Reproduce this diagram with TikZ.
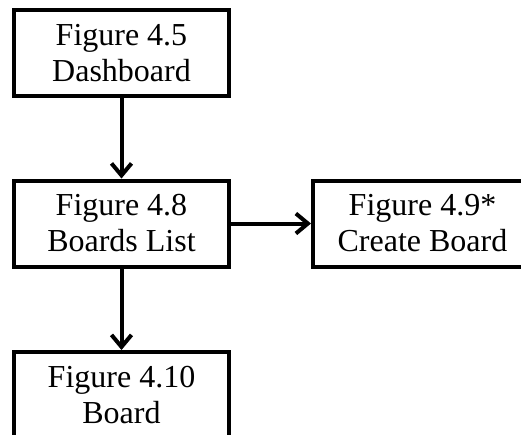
\documentclass[tikz,border=0pt]{standalone}
\usepackage{fontspec}
\setmainfont{Liberation Serif}
\usetikzlibrary{arrows.meta}
\tikzset{
  screen/.style={draw=black, line width=4pt, fill=white, rectangle,
    minimum width=215pt, minimum height=86pt, align=center, inner sep=0pt,
    font=\fontsize{32}{36}\selectfont},
  flow/.style={line width=4pt, -{Straight Barb[length=12pt,width=20pt]}}
}
\begin{document}
\begin{tikzpicture}[x=1pt, y=-1pt]
  \useasboundingbox (0,0) rectangle (521,434);
  \clip (0,0) rectangle (521,434);
  \node[screen] (dash) at (121.5,53) {Figure 4.5\\Dashboard};
  \node[screen] (list) at (121.5,223.5) {Figure 4.8\\Boards List};
  \node[screen, minimum width=219pt] (create) at (422.5,223.5) {Figure 4.9*\\Create Board};
  \node[screen] (board) at (121.5,395) {Figure 4.10\\Board};
  \draw[flow] (dash) -- (list);
  \draw[flow] (list) -- (create);
  \draw[flow] (list) -- (board);
\end{tikzpicture}
\end{document}
